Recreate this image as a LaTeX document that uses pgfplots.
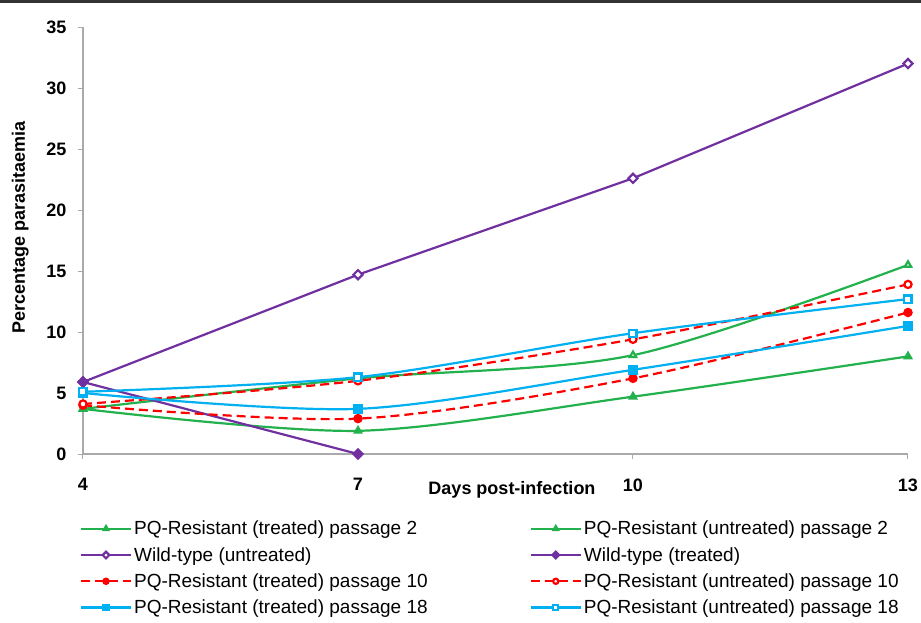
\documentclass[border=0pt]{standalone}
\usepackage{pgfplots}
\pgfplotsset{compat=1.18}
\usepackage{fontspec}
\setmainfont{Liberation Sans}
\definecolor{cgreen}{RGB}{34,177,76}
\definecolor{cpurple}{RGB}{112,48,160}
\definecolor{cred}{RGB}{255,0,0}
\definecolor{cblue}{RGB}{0,176,240}
\definecolor{caxis}{RGB}{170,170,170}
\begin{document}
\begin{tikzpicture}
\useasboundingbox (-83pt,-168pt) rectangle (838pt,454pt);
\draw[line width=3pt, black!80] (-83pt,452.5pt) -- (838pt,452.5pt);
\begin{axis}[
  at={(0pt,0pt)}, anchor=south west,
  scale only axis, width=825pt, height=427pt,
  xmin=4, xmax=13, ymin=0, ymax=35,
  xtick={4,7,10,13}, ytick={0,5,...,35},
  axis x line*=bottom, axis y line*=left,
  axis line style={caxis, line width=1.5pt, -},
  tick align=outside, major tick length=5pt,
  tick style={caxis, line width=1pt},
  /pgf/number format/assume math mode=true,
  ticklabel style={font=\bfseries\fontsize{18}{20}\selectfont},
  xticklabel style={yshift=-16pt},
  yticklabel style={xshift=-8pt},
  xlabel={Days post-infection},
  ylabel={Percentage parasitaemia},
  label style={font=\bfseries\fontsize{18}{20}\selectfont},
  xlabel style={at={(axis description cs:0.52,0)}, anchor=center, yshift=-36pt},
  ylabel style={at={(axis description cs:-0.076,0.53)}, anchor=center},
  clip=false,
  legend columns=2,
  legend style={draw=none, fill=none, font=\fontsize{19}{21}\selectfont,
    at={(axis description cs:-0.004,-0.152)}, anchor=north west,
    /tikz/row sep=7pt, inner sep=0pt,
    /tikz/every even column/.append style={column sep=100pt}},
  legend cell align=left,
  legend image code/.code={\draw[mark repeat=2,mark phase=2,mark size=2.6pt] plot coordinates {(0pt,0pt)(25pt,0pt)(50pt,0pt)};},
  every axis plot/.append style={line width=2.2pt},
  mark size=3.6pt,
]
% PQ-Resistant (treated) passage 2
\addplot[cgreen, smooth, mark=triangle*, mark options={solid, fill=cgreen}] coordinates {(4,3.7)(7,1.9)(10,4.7)(13,8.0)};
\addlegendentry{PQ-Resistant (treated) passage 2}
% PQ-Resistant (untreated) passage 2
\addplot[cgreen, smooth, mark=triangle*, mark options={solid, fill=white}] coordinates {(4,3.7)(7,6.2)(10,8.1)(13,15.5)};
\addlegendentry{PQ-Resistant (untreated) passage 2}
% Wild-type (untreated)
\addplot[cpurple, sharp plot, mark=square*, mark options={solid, fill=white, rotate=45, scale=0.9}] coordinates {(4,5.9)(7,14.7)(10,22.6)(13,32.0)};
\addlegendentry{Wild-type (untreated)}
% Wild-type (treated)
\addplot[cpurple, sharp plot, mark=square*, mark options={solid, fill=cpurple, rotate=45, scale=0.9}] coordinates {(4,5.9)(7,0.0)};
\addlegendentry{Wild-type (treated)}
% PQ-Resistant (treated) passage 10
\addplot[cred, smooth, dash pattern=on 9pt off 5pt, mark=*, mark options={solid, fill=cred}] coordinates {(4,4.0)(7,2.9)(10,6.2)(13,11.6)};
\addlegendentry{PQ-Resistant (treated) passage 10}
% PQ-Resistant (untreated) passage 10
\addplot[cred, smooth, dash pattern=on 9pt off 5pt, mark=*, mark options={solid, fill=white}] coordinates {(4,4.1)(7,6.0)(10,9.4)(13,13.9)};
\addlegendentry{PQ-Resistant (untreated) passage 10}
% PQ-Resistant (treated) passage 18
\addplot[cblue, smooth, mark=square*, mark options={solid, fill=cblue}] coordinates {(4,5.0)(7,3.7)(10,6.9)(13,10.5)};
\addlegendentry{PQ-Resistant (treated) passage 18}
% PQ-Resistant (untreated) passage 18
\addplot[cblue, smooth, mark=square*, mark options={solid, fill=white}] coordinates {(4,5.1)(7,6.3)(10,9.9)(13,12.7)};
\addlegendentry{PQ-Resistant (untreated) passage 18}
\end{axis}
\end{tikzpicture}
\end{document}
